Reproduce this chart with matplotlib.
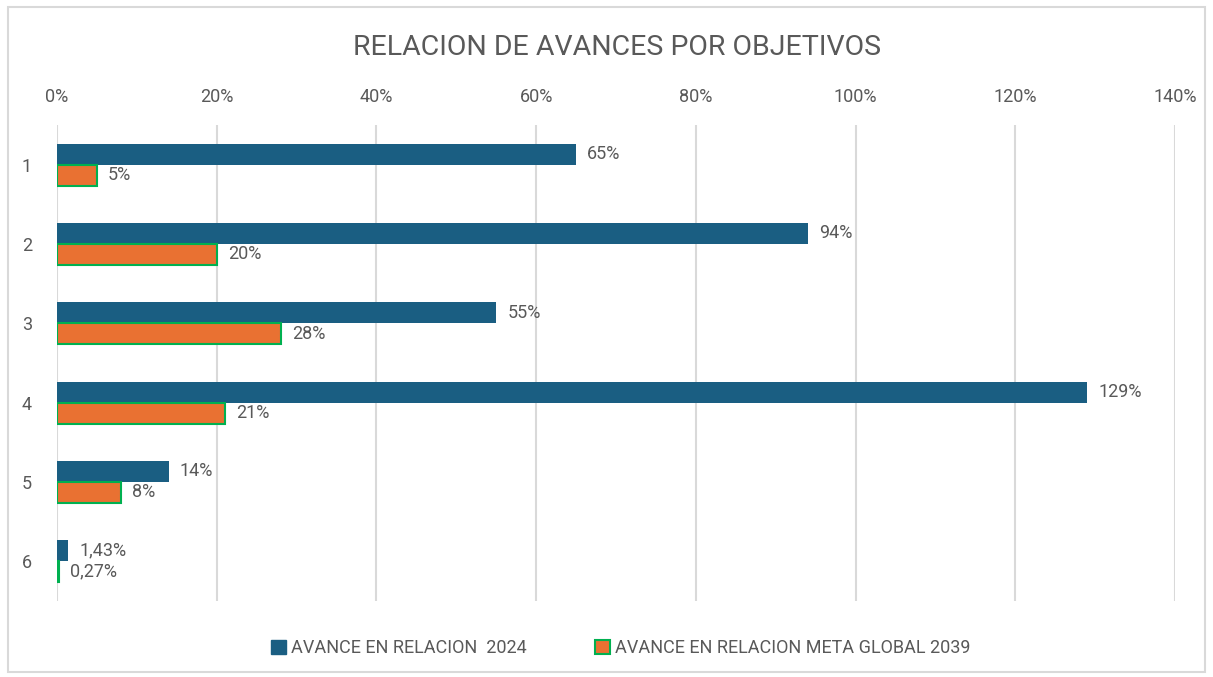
import numpy as np
import matplotlib.pyplot as plt
from matplotlib.patches import Rectangle, Patch
from matplotlib.ticker import FuncFormatter

# data
objetivos = ['1', '2', '3', '4', '5', '6']
avance_2024 = [65, 94, 55, 129, 14, 1.43]
avance_meta_2039 = [5, 20, 28, 21, 8, 0.27]
series_names = ['AVANCE EN RELACION  2024', 'AVANCE EN RELACION META GLOBAL 2039']

blue = '#1a5e82'
orange = '#e97132'
green = '#00b050'
gray_text = '#595959'
grid_gray = '#d9d9d9'

plt.rcParams['font.family'] = ['Roboto', 'DejaVu Sans']

fig = plt.figure(figsize=(12.13, 6.77), dpi=100)
fig.patches.append(Rectangle((0.007, 0.008), 0.986, 0.981, transform=fig.transFigure,
                             fill=False, edgecolor=grid_gray, linewidth=1.5))
ax = fig.add_axes([0.047, 0.1123, 0.9217, 0.7031])

index = np.arange(len(objetivos))
bar_h = 0.265

ax.barh(index - bar_h / 2, avance_2024, bar_h, color=blue, zorder=3)
ax.barh(index + bar_h / 2, avance_meta_2039, bar_h, color=orange,
        edgecolor=green, linewidth=1.5, zorder=3)


def fmt(v):
    if float(v).is_integer():
        return f'{int(v)}%'
    return f'{v:.2f}'.replace('.', ',') + '%'


for i, (a, b) in enumerate(zip(avance_2024, avance_meta_2039)):
    ax.annotate(fmt(a), (a, i - bar_h / 2), xytext=(8, 0), textcoords='offset points',
                va='center', ha='left', fontsize=13, color=gray_text)
    ax.annotate(fmt(b), (b, i + bar_h / 2), xytext=(8, 0), textcoords='offset points',
                va='center', ha='left', fontsize=13, color=gray_text)

ax.set_xlim(0, 140)
ax.set_ylim(len(objetivos) - 0.5, -0.5)
ax.set_xticks(np.arange(0, 141, 20))
ax.xaxis.set_major_formatter(FuncFormatter(lambda v, p: f'{int(v)}%'))
ax.xaxis.tick_top()
ax.set_yticks(index)
ax.set_yticklabels(objetivos)
ax.tick_params(axis='x', length=0, pad=14, labelsize=13, labelcolor=gray_text)
ax.tick_params(axis='y', length=0, pad=18, labelsize=13, labelcolor=gray_text)
ax.grid(axis='x', color=grid_gray, linewidth=1.5, zorder=0)
for s in ax.spines.values():
    s.set_visible(False)

fig.text(0.509, 0.93, 'RELACION DE AVANCES POR OBJETIVOS', ha='center', va='center',
         fontsize=20.5, color=gray_text)

handles = [Patch(facecolor=blue, edgecolor=blue),
           Patch(facecolor=orange, edgecolor=green, linewidth=1.5)]
fig.legend(handles, series_names, loc='center', bbox_to_anchor=(0.512, 0.043), ncol=2,
           frameon=False, fontsize=13, labelcolor=gray_text, handlelength=0.8,
           handleheight=0.8, handletextpad=0.3, columnspacing=3.8)

fig.savefig('out.png', dpi=100)
